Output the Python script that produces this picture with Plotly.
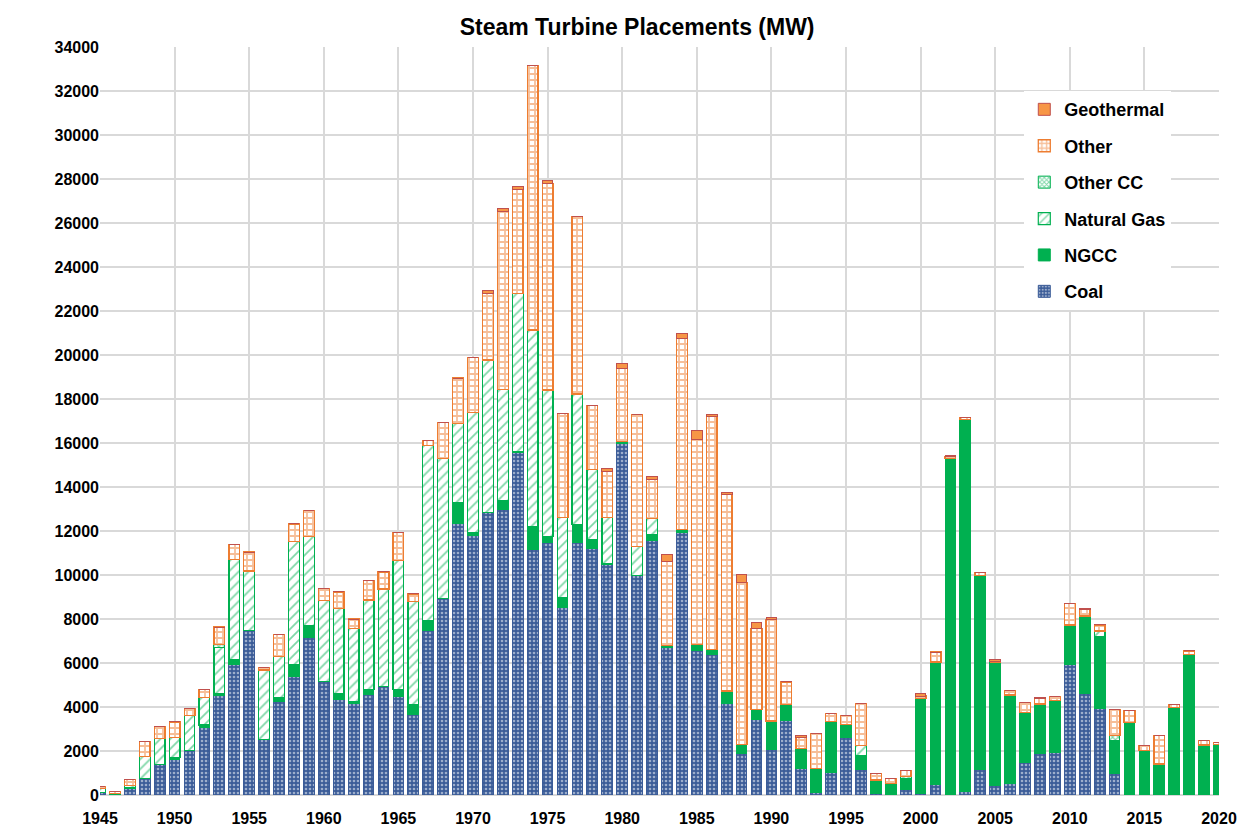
import plotly.graph_objects as go

years = list(range(1945, 2021))

coal = [100, 30, 300, 750, 1370, 1600, 2010, 3090, 4510, 5950,
        7460, 2510, 4230, 5380, 7140, 5150, 4320, 4140, 4580, 4920,
        4480, 3670, 7500, 8930, 12340, 11800, 12830, 12980, 15590, 11170,
        11500, 8530, 11500, 11200, 10460, 16000, 9960, 11570, 6710, 11910,
        6590, 6400, 4170, 1890, 3450, 2090, 3400, 1210, 120, 1030,
        2620, 1150, 80, 0, 240, 90, 500, 30, 150, 1150,
        420, 540, 1480, 1900, 1940, 5910, 4630, 3930, 1000, 0,
        0, 0, 0, 0, 0, 0]

ngcc = [0, 0, 30, 0, 0, 120, 0, 90, 110, 210,
        0, 0, 200, 560, 560, 0, 300, 100, 230, 0,
        300, 450, 420, 0, 970, 120, 0, 400, 0, 1010,
        240, 450, 800, 390, 50, 70, 0, 280, 70, 150,
        180, 220, 560, 420, 450, 1280, 700, 910, 1090, 2310,
        600, 660, 600, 530, 490, 4290, 5550, 15260, 16910, 8830,
        5630, 4010, 2270, 2230, 2340, 1820, 3500, 3250, 1460, 3300,
        2010, 1410, 3980, 6400, 2270, 2310]

natural_gas = [200, 50, 100, 1000, 1200, 900, 1600, 1250, 2070, 4560,
               2720, 3170, 1870, 5580, 4050, 3680, 3850, 3340, 4050, 4450,
               5890, 4660, 7970, 6370, 3590, 5460, 6940, 5060, 7210, 8950,
               6670, 3620, 5930, 3200, 2090, 0, 1330, 720, 0, 0,
               60, 0, 0, 0, 0, 0, 0, 0, 0, 0,
               0, 430, 0, 0, 0, 0, 0, 0, 0, 0,
               0, 0, 0, 0, 0, 0, 0, 270, 0, 0,
               0, 0, 0, 0, 0, 0]

other_cc = [0, 0, 0, 0, 0, 0, 0, 0, 150, 0,
            0, 0, 0, 0, 0, 0, 0, 0, 0, 0,
            0, 0, 0, 0, 0, 0, 0, 0, 0, 0,
            0, 0, 0, 0, 0, 0, 0, 0, 0, 0,
            0, 0, 0, 0, 0, 0, 0, 0, 0, 0,
            0, 0, 0, 0, 120, 0, 0, 0, 0, 0,
            0, 0, 0, 0, 0, 0, 0, 0, 260, 0,
            0, 0, 0, 0, 0, 0]

other = [100, 70, 270, 680, 530, 700, 330, 380, 790, 660,
         860, 110, 1000, 800, 1180, 570, 760, 420, 900, 770,
         1250, 360, 230, 1630, 2050, 2510, 3030, 8090, 4710, 12040,
         9370, 4750, 8070, 2900, 2110, 3320, 6010, 1770, 3850, 8680,
         9350, 10590, 8920, 7340, 3660, 4610, 1040, 500, 1590, 360,
         380, 1920, 300, 230, 250, 120, 450, 100, 100, 120,
         0, 210, 450, 250, 200, 960, 310, 280, 1180, 530,
         230, 1280, 120, 150, 220, 80]

geothermal = [0, 0, 0, 0, 0, 0, 0, 0, 0, 0,
              0, 0, 0, 0, 0, 0, 0, 0, 0, 0,
              0, 0, 0, 0, 0, 0, 110, 150, 150, 0,
              150, 0, 0, 0, 120, 230, 0, 150, 300, 230,
              390, 100, 110, 370, 300, 80, 0, 100, 0, 0,
              0, 0, 0, 0, 0, 130, 0, 30, 0, 0,
              90, 0, 0, 50, 0, 0, 50, 30, 0, 0,
              0, 0, 0, 0, 0, 0]

BLUE = "#3b5c98"
GREEN = "#00b050"
ORANGE = "#ed7d31"

series = [
    ("Coal", coal, 6, dict(color=BLUE, line=dict(color=BLUE, width=1),
                           pattern=dict(shape=".", fgcolor="white", bgcolor=BLUE, size=4, solidity=0.35))),
    ("NGCC", ngcc, 5, dict(color=GREEN, line=dict(color=GREEN, width=1))),
    ("Natural Gas", natural_gas, 4, dict(color="white", line=dict(color=GREEN, width=1.2),
                                         pattern=dict(shape="/", fgcolor=GREEN, bgcolor="white", size=7, solidity=0.25))),
    ("Other CC", other_cc, 3, dict(color="white", line=dict(color=GREEN, width=1),
                                   pattern=dict(shape="x", fgcolor=GREEN, bgcolor="white", size=4, solidity=0.5))),
    ("Other", other, 2, dict(color="white", line=dict(color=ORANGE, width=1.3),
                             pattern=dict(shape="+", fgcolor=ORANGE, bgcolor="white", size=6, solidity=0.5))),
    ("Geothermal", geothermal, 1, dict(color="#f79646", line=dict(color="#c0504d", width=1))),
]

fig = go.Figure()
for name, vals, rank, marker in series:
    fig.add_trace(go.Bar(x=years, y=vals, name="<b>" + name + "</b>", marker=marker,
                         legendgroup=name, legendrank=rank))

font_family = "Liberation Sans, Arial, sans-serif"

fig.update_layout(
    width=1242, height=831,
    barmode="stack", bargap=0.28,
    plot_bgcolor="white", paper_bgcolor="white",
    margin=dict(l=92, r=31, t=39, b=42),
    title=dict(text="<b>Steam Turbine Placements (MW)</b>", x=0.48, xref="paper",
               y=0.977, yref="container", xanchor="center", yanchor="middle",
               font=dict(family=font_family, size=23, color="black")),
    font=dict(family=font_family, color="black"),
    legend=dict(x=0.826, y=0.941, xanchor="left", yanchor="top",
                bgcolor="white", traceorder="grouped", tracegroupgap=10,
                font=dict(family=font_family, size=18, color="black"),
                itemwidth=30),
    xaxis=dict(range=[1945, 2020], tick0=1945, dtick=5, showgrid=True,
               gridcolor="#d9d9d9", gridwidth=2, zeroline=False,
               showline=False, ticks="", ticklabelstandoff=12,
               tickfont=dict(family=font_family, size=16, color="black"),
               tickprefix="<b>", ticksuffix="</b>"),
    yaxis=dict(range=[0, 34000], dtick=2000, showgrid=True, gridcolor="#d9d9d9",
               gridwidth=2, zeroline=True, zerolinecolor="#d9d9d9", zerolinewidth=2,
               tickformat="d", ticks="",
               tickfont=dict(family=font_family, size=16, color="black"),
               tickprefix="<b>", ticksuffix="</b>"),
)

fig.write_html("out.html")
